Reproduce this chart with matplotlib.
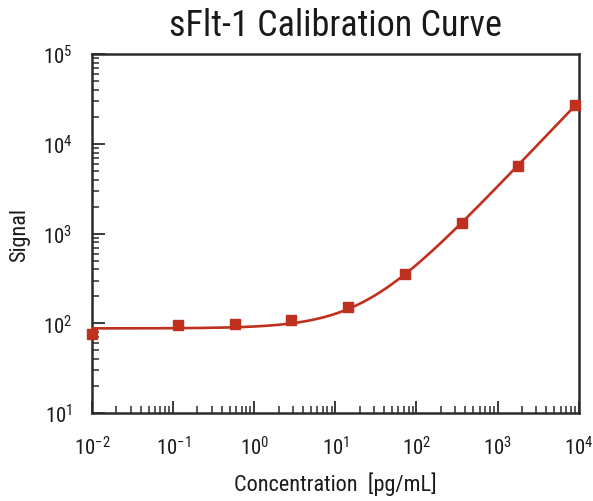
import numpy as np
import matplotlib
matplotlib.use("Agg")
import matplotlib.pyplot as plt
from matplotlib.ticker import LogLocator, NullFormatter
from matplotlib import font_manager

# data (5-fold dilution series, blank plotted at 0.01)
conc = [0.01, 0.1152, 0.576, 2.88, 14.4, 72, 360, 1800, 9000]
signal = [76, 96, 99, 109, 153, 353, 1316, 5623, 27100]

# 4PL fit parameters estimated from the drawn curve
fit_bottom = 88.0
fit_slope = 0.957
fit_ec50 = 1.0e6
fit_top = 88.0 + 4.42 * fit_ec50 ** 0.957

red = "#c0301e"

names = [f.name for f in font_manager.fontManager.ttflist]
fam = []
for n in ["Roboto Condensed", "Liberation Sans Narrow", "DejaVu Sans Condensed"]:
    if n in names:
        fam.append(n)
fam.append("DejaVu Sans")
plt.rcParams["font.family"] = fam
plt.rcParams["axes.unicode_minus"] = False
plt.rcParams["mathtext.fontset"] = "custom"
plt.rcParams["mathtext.rm"] = fam[0]
plt.rcParams["mathtext.it"] = fam[0]
plt.rcParams["mathtext.bf"] = fam[0]

fig = plt.figure(figsize=(5.93, 5.02), dpi=100)
ax = fig.add_axes([0.155, 0.175, 0.821, 0.715])

xs = np.logspace(-2, 4, 400)
ys = fit_top + (fit_bottom - fit_top) / (1 + (xs / fit_ec50) ** fit_slope)
ax.plot(xs, ys, color=red, lw=1.9, zorder=3)
ax.plot(conc, signal, "s", color=red, ms=7, clip_on=False, zorder=4)

ax.set_xscale("log")
ax.set_yscale("log")
ax.set_xlim(1e-2, 1e4)
ax.set_ylim(1e1, 1e5)

ax.xaxis.set_major_locator(LogLocator(base=10, numticks=10))
ax.yaxis.set_major_locator(LogLocator(base=10, numticks=10))
ax.xaxis.set_minor_locator(LogLocator(base=10, subs=np.arange(2, 10), numticks=20))
ax.yaxis.set_minor_locator(LogLocator(base=10, subs=np.arange(2, 10), numticks=20))
ax.xaxis.set_minor_formatter(NullFormatter())
ax.yaxis.set_minor_formatter(NullFormatter())

for s in ax.spines.values():
    s.set_linewidth(1.8)
    s.set_color("#2b2b2b")
ax.tick_params(which="major", direction="in", length=9, width=1.3, color="#2b2b2b",
               labelsize=15, labelcolor="#1a1a1a")
ax.tick_params(which="minor", direction="in", length=5, width=1.1, color="#2b2b2b")
ax.tick_params(axis="x", which="major", pad=16)
ax.tick_params(axis="y", which="major", pad=14)

ax.set_title("sFlt-1 Calibration Curve", fontsize=26, pad=14, color="#1a1a1a")
ax.set_xlabel("Concentration  [pg/mL]", fontsize=16, labelpad=9, color="#1a1a1a")
ax.set_ylabel("Signal", fontsize=16, labelpad=9, color="#1a1a1a")

fig.savefig("out.png", dpi=100)
